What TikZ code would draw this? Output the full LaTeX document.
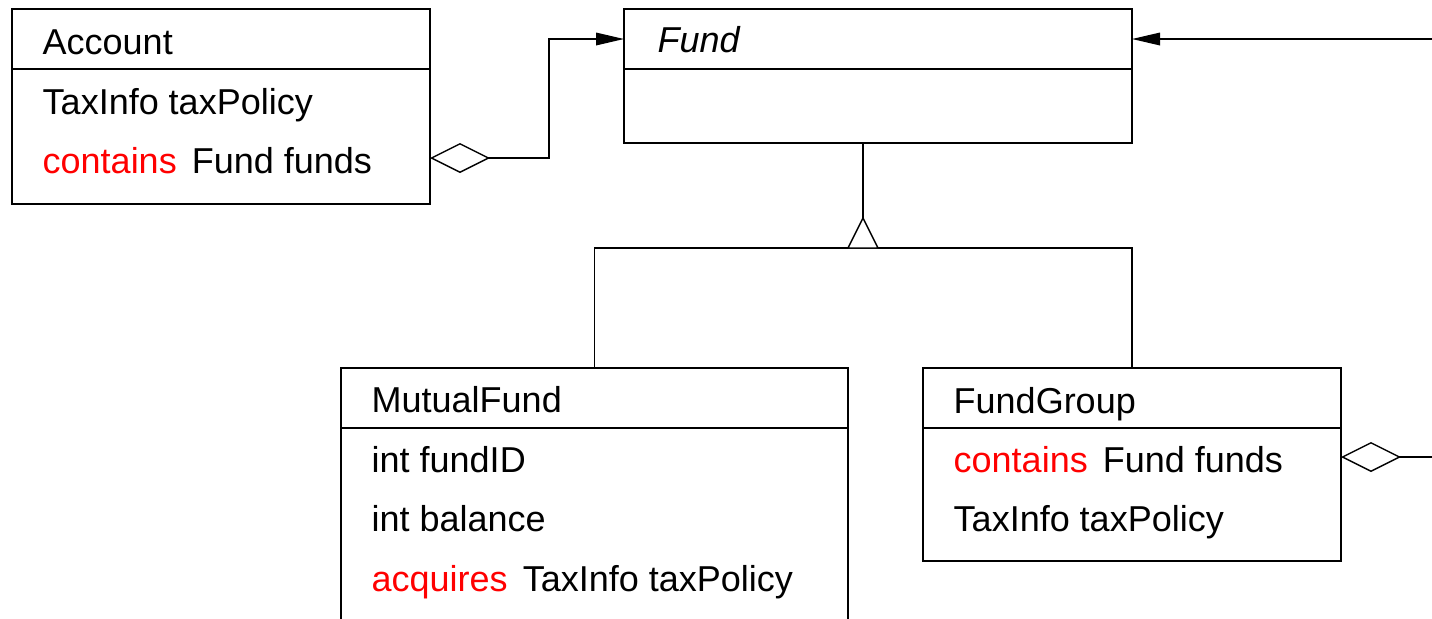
\documentclass[tikz,border=0pt]{standalone}
\usepackage{fontspec}
\setmainfont{Liberation Sans}
\usetikzlibrary{arrows.meta,calc}
\definecolor{kwred}{RGB}{255,0,0}
\begin{document}
\begin{tikzpicture}[x=0.5pt,y=-0.5pt,line width=0.7pt,
  classbox/.style={draw,line width=0.7pt,anchor=north west,inner sep=0pt,outer sep=0pt},
  txt/.style={anchor=base west,inner sep=0pt,font=\fontsize{18}{20}\selectfont},
  agg/.style={{Diamond[open,fill=white,length=30pt,width=15pt]}-},
  nav/.style={-{Triangle[length=14pt,width=6.3pt]}},
  aggnav/.style={{Diamond[open,fill=white,length=30pt,width=15pt]}-{Triangle[length=14pt,width=6.3pt]}}
]
\clip (0,0) rectangle (1432,618);

% class boxes
\node[classbox,minimum width=209pt,minimum height=97.5pt] (account) at (12,9) {};
\node[classbox,minimum width=254pt,minimum height=67pt] (fund) at (624,9) {};
\node[classbox,minimum width=253.5pt,minimum height=150pt] (mutual) at (341,368) {};
\node[classbox,minimum width=209pt,minimum height=96.5pt] (group) at (923,368) {};

% compartment separators
\foreach \b in {account,fund,mutual,group}
  \draw ([yshift=-30pt]\b.north west) -- ([yshift=-30pt]\b.north east);

% Account
\node[txt] (account-name) at (42,54) {Account};
\node[txt] (account-a1) at (42,114) {TaxInfo taxPolicy};
\node[txt] (account-a2) at (42,173) {\textcolor{kwred}{contains}\hspace{0.42em}Fund funds};

% Fund (abstract)
\node[txt] (fund-name) at (657,52) {\itshape Fund};

% MutualFund
\node[txt] (mutual-name) at (371,412) {MutualFund};
\node[txt] (mutual-a1) at (371,472) {int fundID};
\node[txt] (mutual-a2) at (371,531) {int balance};
\node[txt] (mutual-a3) at (371,591) {\textcolor{kwred}{acquires}\hspace{0.42em}TaxInfo taxPolicy};

% FundGroup
\node[txt] (group-name) at (953,413) {FundGroup};
\node[txt] (group-a1) at (953,472) {\textcolor{kwred}{contains}\hspace{0.42em}Fund funds};
\node[txt] (group-a2) at (953,531) {TaxInfo taxPolicy};

% Account aggregates Fund
\draw[aggnav] ([yshift=-74.5pt]account.north east) -- ++(119,0)
  |- ([yshift=-15pt]fund.north west);

% FundGroup aggregates Fund (routed off to the right)
\coordinate (grp-out) at (1445,457);
\coordinate (fund-in) at (1445,39);
\draw[agg] ([yshift=-44.5pt]group.north east) -- (grp-out);
\draw[nav] (fund-in) -- ([yshift=-15pt]fund.north east);

% generalization
\coordinate (split) at (863,248);
\draw (mutual.north) |- (split) -| (group.north);
\draw ([xshift=-7.5pt]fund.south) -- ([yshift=15pt]split);
\draw[fill=white,line join=miter] ([xshift=-7.5pt]split) -- ([xshift=7.5pt]split)
  -- ([yshift=15pt]split) -- cycle;
\end{tikzpicture}
\end{document}
